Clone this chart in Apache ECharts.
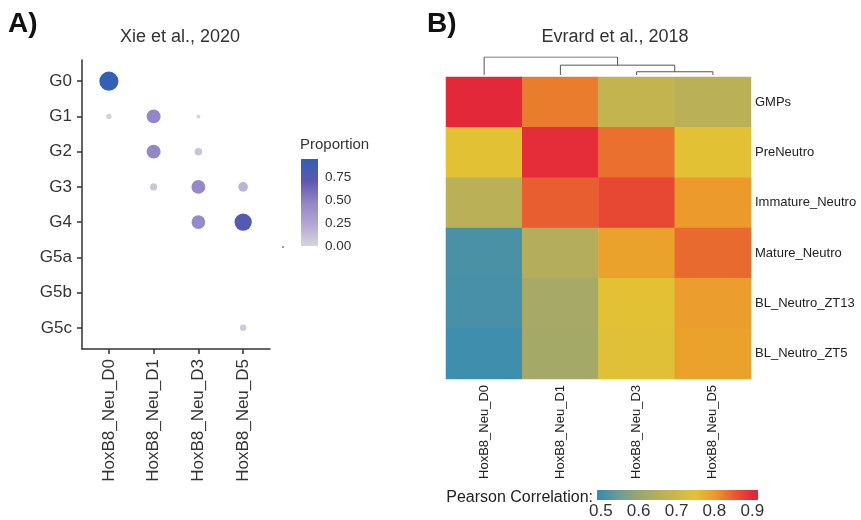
<!DOCTYPE html>
<html>
<head>
<meta charset="utf-8">
<script src="https://cdn.jsdelivr.net/npm/echarts@6/dist/echarts.min.js"></script>
<style>
html,body{margin:0;padding:0;background:#fff;}
#chart{width:861px;height:520px;}
</style>
</head>
<body>
<div id="chart"></div>
<script>
// ---------- Panel A data (Xie et al., 2020) ----------
const xieSamples = ['HoxB8_Neu_D0', 'HoxB8_Neu_D1', 'HoxB8_Neu_D3', 'HoxB8_Neu_D5'];
const xieGroups = ['G0', 'G1', 'G2', 'G3', 'G4', 'G5a', 'G5b', 'G5c'];
// rows = groups, columns = samples; null = no dot
const proportion = [
  [0.95, null, null, null],
  [0.03, 0.46, 0.01, null],
  [null, 0.46, 0.09, null],
  [null, 0.08, 0.45, 0.18],
  [null, null, 0.44, 0.76],
  [null, null, null, null],
  [null, null, null, null],
  [null, null, null, 0.06]
];
const propTicks = [0, 0.25, 0.5, 0.75];
const propRange = [0, 0.955];
const propColors = ['#d6d6dc', '#b4a6d3', '#9384c6', '#5c58b0', '#3060b4'];

// ---------- Panel B data (Evrard et al., 2018) ----------
const evrardSamples = ['HoxB8_Neu_D0', 'HoxB8_Neu_D1', 'HoxB8_Neu_D3', 'HoxB8_Neu_D5'];
const evrardRows = ['GMPs', 'PreNeutro', 'Immature_Neutro', 'Mature_Neutro', 'BL_Neutro_ZT13', 'BL_Neutro_ZT5'];
const corr = [
  [0.900, 0.825, 0.680, 0.660],
  [0.745, 0.895, 0.835, 0.745],
  [0.660, 0.850, 0.870, 0.800],
  [0.515, 0.645, 0.790, 0.840],
  [0.513, 0.625, 0.745, 0.795],
  [0.505, 0.620, 0.740, 0.790]
];
// column dendrogram merges: [left, right, height]; 'mK' refers to merge K
const colTree = [
  [2, 3, 0.033],
  [1, 'm0', 0.100],
  [0, 'm1', 0.183]
];
const corrTicks = [0.5, 0.6, 0.7, 0.8, 0.9];
const corrColorRange = [0.5, 0.9];
const corrBarRange = [0.49, 0.915];
const heatColors = ['#3a8cb0', '#6f9d90', '#98a672', '#b6ae5a', '#ccb84a', '#e4c232', '#ec9a2c', '#e85e30', '#e3283a'];

const FONT = '"Liberation Sans", Arial, sans-serif';

// ---------- build series data ----------
const dotData = [];
proportion.forEach((row, i) => row.forEach((v, j) => { if (v !== null) dotData.push([j, i, v]); }));

const heatData = [];
corr.forEach((row, i) => row.forEach((v, j) => heatData.push([j, i, v])));

// dendrogram segments
const nodePos = [], nodeH = [];
function posOf(n) { return typeof n === 'string' ? nodePos[+n.slice(1)] : n; }
function hOf(n) { return typeof n === 'string' ? nodeH[+n.slice(1)] : 0; }
const dendroSeries = colTree.map((m, k) => {
  const xl = posOf(m[0]), xr = posOf(m[1]);
  const hl = hOf(m[0]), hr = hOf(m[1]);
  nodePos[k] = (xl + xr) / 2; nodeH[k] = m[2];
  return {
    type: 'line', xAxisIndex: 3, yAxisIndex: 4, symbol: 'none', silent: true,
    lineStyle: { color: '#555', width: 1 },
    data: [[xl, hl], [xl, m[2]], [xr, m[2]], [xr, hr]]
  };
});
const treeTop = Math.max(...colTree.map(m => m[2]));

function gradientStops(lo, hi, cmin, cmax, colors) {
  const n = colors.length, stops = [];
  for (let k = 0; k < n; k++) {
    const v = cmin + k * (cmax - cmin) / (n - 1);
    const off = (v - lo) / (hi - lo);
    stops.push({ offset: Math.min(1, Math.max(0, off)), color: colors[k] });
  }
  return stops;
}
function barSeries(xi, yi, lo, hi, cmin, cmax, colors, vertical) {
  return {
    type: 'custom', xAxisIndex: xi, yAxisIndex: yi, silent: true, clip: false,
    data: [[lo, hi]],
    encode: vertical ? { y: [0, 1] } : { x: [0, 1] },
    renderItem: function (params, api) {
      const a = api.value(0), b = api.value(1);
      const p0 = vertical ? api.coord([0, a]) : api.coord([a, 0]);
      const p1 = vertical ? api.coord([1, b]) : api.coord([b, 1]);
      const grad = vertical
        ? new echarts.graphic.LinearGradient(0, 1, 0, 0, gradientStops(a, b, cmin, cmax, colors))
        : new echarts.graphic.LinearGradient(0, 0, 1, 0, gradientStops(a, b, cmin, cmax, colors));
      return {
        type: 'rect',
        shape: { x: Math.min(p0[0], p1[0]), y: Math.min(p0[1], p1[1]), width: Math.abs(p1[0] - p0[0]), height: Math.abs(p1[1] - p0[1]) },
        style: { fill: grad }
      };
    }
  };
}

function txt(text, x, y, size, opts) {
  opts = opts || {};
  return {
    type: 'text', x: x, y: y, silent: true,
    style: {
      text: text, fill: opts.color || '#333',
      font: (opts.bold ? 'bold ' : '') + size + 'px ' + FONT,
      align: opts.align || 'left', textAlign: opts.align || 'left',
      verticalAlign: 'middle', textVerticalAlign: 'middle'
    }
  };
}

const idx = (arr) => arr.map((_, i) => i);

const option = {
  animation: false,
  backgroundColor: '#fff',
  textStyle: { fontFamily: FONT },
  graphic: [
    txt('A)', 8, 24, 28, { bold: true, color: '#111' }),
    txt('B)', 427, 24, 28, { bold: true, color: '#111' }),
    txt('Xie et al., 2020', 180, 37, 18, { align: 'center' }),
    txt('Evrard et al., 2018', 615, 37, 18, { align: 'center' }),
    txt('Proportion', 300, 145, 15),
    txt('Pearson Correlation:', 593, 498, 16, { align: 'right', color: '#222' }),
    { type: 'circle', shape: { cx: 283, cy: 247, r: 0.9 }, style: { fill: '#777' }, silent: true }
  ],
  grid: [
    { left: 82, top: 60, width: 188, height: 289 },
    { left: 301, top: 159, width: 17, height: 87 },
    { left: 446, top: 77, width: 305, height: 302 },
    { left: 446, top: 57, width: 305, height: 18 },
    { left: 597, top: 490, width: 161, height: 14 }
  ],
  xAxis: [
    {
      gridIndex: 0, type: 'value', min: -0.6, max: xieSamples.length - 0.4,
      axisLine: { show: true, onZero: false, lineStyle: { color: '#333', width: 1.5 } },
      axisTick: { show: true, customValues: idx(xieSamples), length: 5, lineStyle: { color: '#333', width: 1.5 } },
      axisLabel: { customValues: idx(xieSamples), formatter: v => xieSamples[Math.round(v)], rotate: 90, margin: 10, fontSize: 17, color: '#333', fontFamily: FONT },
      splitLine: { show: false }
    },
    { gridIndex: 1, type: 'value', min: 0, max: 1, show: false },
    {
      gridIndex: 2, type: 'category', data: evrardSamples, position: 'bottom',
      axisLine: { show: false }, axisTick: { show: false },
      axisLabel: { rotate: 90, margin: 6, fontSize: 13, color: '#222', fontFamily: FONT },
      splitLine: { show: false }
    },
    { gridIndex: 3, type: 'value', min: -0.5, max: evrardSamples.length - 0.5, show: false },
    {
      gridIndex: 4, type: 'value', min: corrBarRange[0], max: corrBarRange[1], position: 'bottom',
      axisLine: { show: false },
      axisTick: { show: true, inside: true, customValues: corrTicks, length: 3, lineStyle: { color: '#fff', width: 1 } },
      axisLabel: { customValues: corrTicks, formatter: v => v.toFixed(1), margin: 3, fontSize: 17, color: '#333', fontFamily: FONT },
      splitLine: { show: false }
    },
    {
      gridIndex: 4, type: 'value', min: corrBarRange[0], max: corrBarRange[1], position: 'top',
      axisLine: { show: false },
      axisTick: { show: true, inside: true, customValues: corrTicks, length: 3, lineStyle: { color: '#fff', width: 1 } },
      axisLabel: { show: false }, splitLine: { show: false }
    }
  ],
  yAxis: [
    {
      gridIndex: 0, type: 'value', min: -0.6, max: xieGroups.length - 0.4, inverse: true,
      axisLine: { show: true, onZero: false, lineStyle: { color: '#333', width: 1.5 } },
      axisTick: { show: true, customValues: idx(xieGroups), length: 5, lineStyle: { color: '#333', width: 1.5 } },
      axisLabel: { customValues: idx(xieGroups), formatter: v => xieGroups[Math.round(v)], margin: 10, fontSize: 17, color: '#333', fontFamily: FONT },
      splitLine: { show: false }
    },
    {
      gridIndex: 1, type: 'value', min: propRange[0], max: propRange[1], position: 'right',
      axisLine: { show: false },
      axisTick: { show: true, inside: true, customValues: propTicks, length: 3, lineStyle: { color: '#fff', width: 1 } },
      axisLabel: { customValues: propTicks, formatter: v => v.toFixed(2), margin: 7, fontSize: 13.5, color: '#333', fontFamily: FONT },
      splitLine: { show: false }
    },
    {
      gridIndex: 1, type: 'value', min: propRange[0], max: propRange[1], position: 'left',
      axisLine: { show: false },
      axisTick: { show: true, inside: true, customValues: propTicks, length: 3, lineStyle: { color: '#fff', width: 1 } },
      axisLabel: { show: false }, splitLine: { show: false }
    },
    {
      gridIndex: 2, type: 'category', data: evrardRows, inverse: true, position: 'right',
      axisLine: { show: false }, axisTick: { show: false },
      axisLabel: { margin: 4, fontSize: 13, color: '#222', fontFamily: FONT },
      splitLine: { show: false }
    },
    { gridIndex: 3, type: 'value', min: 0, max: treeTop, show: false },
    { gridIndex: 4, type: 'value', min: 0, max: 1, show: false }
  ],
  visualMap: [
    { show: false, type: 'continuous', seriesIndex: 0, dimension: 2, min: propRange[0], max: propRange[1], inRange: { color: propColors } },
    { show: false, type: 'continuous', seriesIndex: 2, dimension: 2, min: corrColorRange[0], max: corrColorRange[1], inRange: { color: heatColors } }
  ],
  series: [
    {
      type: 'scatter', xAxisIndex: 0, yAxisIndex: 0, data: dotData, silent: true,
      symbolSize: v => 2.3 + 17.2 * Math.sqrt(v[2]),
      itemStyle: { opacity: 1 }
    },
    barSeries(1, 1, propRange[0], propRange[1], propRange[0], propRange[1], propColors, true),
    {
      type: 'heatmap', xAxisIndex: 2, yAxisIndex: 3, data: heatData, silent: true,
      itemStyle: { borderWidth: 0 }, emphasis: { disabled: true }
    },
    barSeries(4, 5, corrBarRange[0], corrBarRange[1], corrColorRange[0], corrColorRange[1], heatColors, false)
  ].concat(dendroSeries)
};

const chart = echarts.init(document.getElementById('chart'), null, { renderer: 'canvas' });
chart.setOption(option);
</script>
</body>
</html>
